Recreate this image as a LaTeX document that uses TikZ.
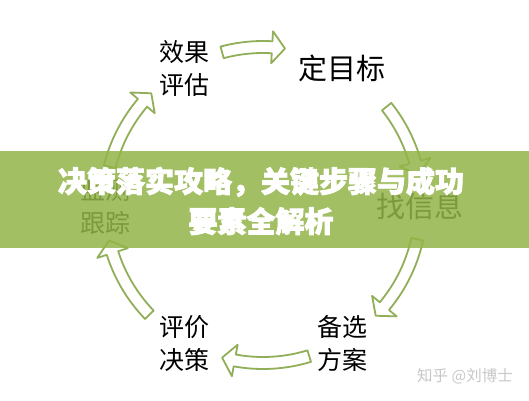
\documentclass[tikz,border=0pt]{standalone}
\usepackage{fontspec}
\newfontfamily\cjk{Noto Sans CJK SC}
\newfontfamily\titlefont[BoldFeatures={FakeBold=3}]{Noto Sans CJK SC}
\definecolor{arrowgreen}{RGB}{145,175,88}
\definecolor{bannergreen}{RGB}{147,180,72}
\definecolor{markgray}{RGB}{200,200,200}
\tikzset{
  lbl/.style={font=\cjk\fontsize{25}{33}\selectfont, align=center, text=black, inner sep=0pt},
  lblbig/.style={font=\cjk\fontsize{29}{34}\selectfont, text=black, inner sep=0pt},
  blockarrow/.style={draw=arrowgreen, line width=1.8pt, fill=white, line join=round},
  banner/.style={fill=bannergreen, fill opacity=0.85},
  titletext/.style={font=\titlefont\bfseries\fontsize{29}{40}\selectfont, text=white, align=center, inner sep=0pt},
  wmark/.style={font=\cjk\fontsize{15.5}{17}\selectfont, text=markgray, inner sep=0pt}
}
\newcommand{\cyclearrow}[2]{%
  \draw[blockarrow] (#1:164pt) arc[start angle=#1, end angle=#2+4.7, radius=164pt]
    -- (#2+4.7:174pt) -- (#2:158pt) -- (#2+4.7:142pt) -- (#2+4.7:152pt)
    arc[start angle=#2+4.7, end angle=#1, radius=152pt] -- cycle;
}
\begin{document}
\begin{tikzpicture}[x=1pt,y=1pt]
\useasboundingbox (0,0) rectangle (529,400);
\fill[white] (0,0) rectangle (529,400);
\begin{scope}[shift={(263,195)}]
  \cyclearrow{105}{82}
  \cyclearrow{38.5}{11}
  \cyclearrow{-12.5}{-44.5}
  \cyclearrow{-73}{-105}
  \cyclearrow{-136}{-167}
  \cyclearrow{166}{135}
\end{scope}
\node[lbl] (eval) at (184,332) {效果\\评估};
\node[lblbig] (goal) at (342,332) {定目标};
\node[lblbig] (info) at (420,194) {找信息};
\node[lbl] (alt) at (342,57) {备选\\方案};
\node[lbl] (dec) at (184,57) {评价\\决策};
\node[lbl] (mon) at (105,193) {监测\\跟踪};
\fill[banner] (0,152) rectangle (529,249);
\node[titletext] (title) at (261,199) {决策落实攻略，关键步骤与成功\\要素全解析};
\node[wmark] (wm) at (465,24) {知乎 @刘博士};
\end{tikzpicture}
\end{document}
